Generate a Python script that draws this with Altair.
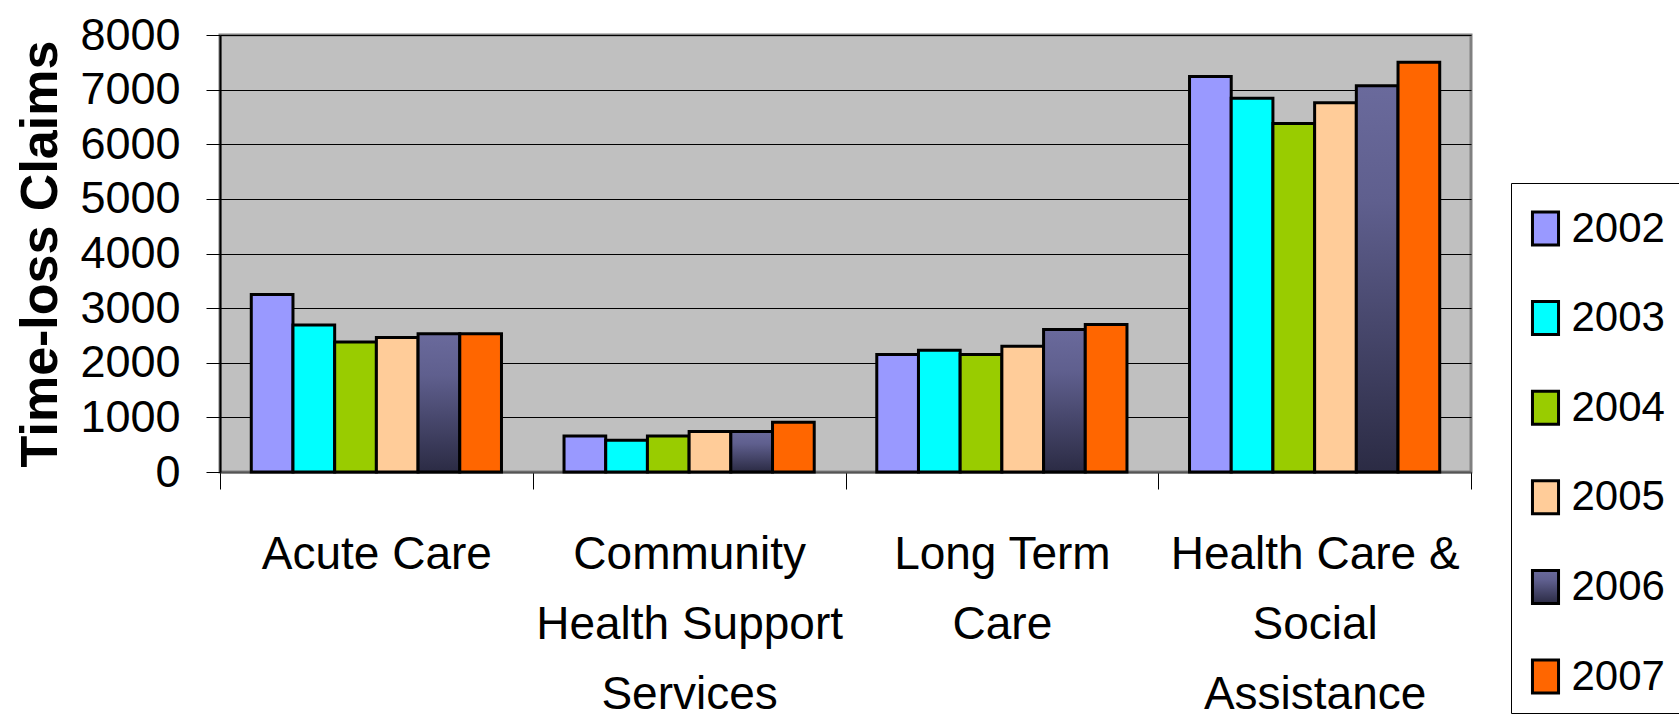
import altair as alt
import pandas as pd

# Sectors along the x axis, and how each name breaks over lines
categories = [
    "Acute Care",
    "Community Health Support Services",
    "Long Term Care",
    "Health Care & Social Assistance",
]
category_lines = [
    ["Acute Care"],
    ["Community", "Health Support", "Services"],
    ["Long Term", "Care"],
    ["Health Care &", "Social", "Assistance"],
]

years = ["2002", "2003", "2004", "2005", "2006", "2007"]

# Time-loss claims per sector, one list per year (same order as categories)
claims_2002 = [3250, 660, 2150, 7240]
claims_2003 = [2690, 580, 2230, 6840]
claims_2004 = [2380, 660, 2150, 6380]
claims_2005 = [2460, 740, 2300, 6760]
claims_2006 = [2530, 740, 2610, 7070]
claims_2007 = [2530, 910, 2700, 7500]

y_ticks = [0, 1000, 2000, 3000, 4000, 5000, 6000, 7000, 8000]

# 2006 is drawn with a vertical blue-grey gradient
gradient_2006 = (
    "{gradient: 'linear', x1: 0, y1: 0, x2: 0, y2: 1, "
    "stops: [{offset: 0, color: '#6a6a9c'}, {offset: 0.3, color: '#5f5f8e'}, "
    "{offset: 1, color: '#2b2b44'}]}"
)
year_colors = ["#9999ff", "#00ffff", "#99cc00", "#ffcc99", {"expr": gradient_2006}, "#ff6600"]

series = [claims_2002, claims_2003, claims_2004, claims_2005, claims_2006, claims_2007]
rows = []
for year, values in zip(years, series):
    for cat, v in zip(categories, values):
        rows.append({"category": cat, "year": year, "claims": v})
df = pd.DataFrame(rows)

label_map = "{" + ", ".join(
    "'" + c + "': [" + ", ".join("'" + line + "'" for line in lines) + "]"
    for c, lines in zip(categories, category_lines)
) + "}"

FONT = "Liberation Sans, Arial, sans-serif"

chart = alt.Chart(df).mark_bar(stroke="black", strokeWidth=3, strokeJoin="miter").encode(
    x=alt.X(
        "category:N",
        sort=categories,
        scale=alt.Scale(paddingInner=0, paddingOuter=0),
        axis=alt.Axis(
            title=None,
            labelExpr=label_map + "[datum.value]",
            labelAngle=0,
            labelFont=FONT,
            labelFontSize=46,
            labelColor="black",
            labelLineHeight=70,
            labelBaseline="top",
            labelPadding=43,
            labelLimit=0,
            tickBand="extent",
            tickSize=17,
            tickColor="black",
            tickWidth=1,
            domainColor="#555555",
            domainWidth=2,
            grid=False,
        ),
    ),
    xOffset=alt.XOffset(
        "year:N", sort=years, scale=alt.Scale(paddingInner=0, paddingOuter=0.75)
    ),
    y=alt.Y(
        "claims:Q",
        scale=alt.Scale(domain=[0, 8000], nice=False),
        axis=alt.Axis(
            values=y_ticks,
            format="d",
            title="Time-loss Claims",
            titleFont=FONT,
            titleFontSize=52,
            titleFontWeight="bold",
            titleColor="black",
            titleAngle=-90,
            titleX=-164,
            titleY=218.5,
            titleAlign="center",
            titleBaseline="alphabetic",
            labelFont=FONT,
            labelFontSize=45,
            labelColor="black",
            labelPadding=26,
            labelBaseline="middle",
            tickSize=14,
            tickColor="black",
            tickWidth=1,
            domainColor="black",
            domainWidth=2,
            grid=True,
            gridColor="black",
            gridWidth=1,
        ),
    ),
    color=alt.Color(
        "year:N",
        sort=years,
        scale=alt.Scale(domain=years, range=year_colors),
        legend=alt.Legend(
            title=" ",
            titleFontSize=1,
            titlePadding=10,
            orient="none",
            legendX=1291,
            legendY=148,
            direction="vertical",
            fillColor="white",
            strokeColor="black",
            padding=13.5,
            symbolType="M-0.79,-1H0.79V1H-0.79Z",
            symbolSize=1089,
            symbolStrokeColor="black",
            symbolStrokeWidth=3,
            labelFont=FONT,
            labelFontSize=42,
            labelColor="black",
            labelOffset=5,
            rowPadding=43.6,
        ),
    ),
).properties(
    width=1251,
    height=437,
    padding={"left": 220, "top": 35, "right": 208, "bottom": 245},
    autosize=alt.AutoSizeParams(type="none"),
).configure_view(
    fill="#c0c0c0",
    stroke="#808080",
    strokeWidth=3,
)

chart.save("out.html", embed_options={"renderer": "svg", "actions": False})
